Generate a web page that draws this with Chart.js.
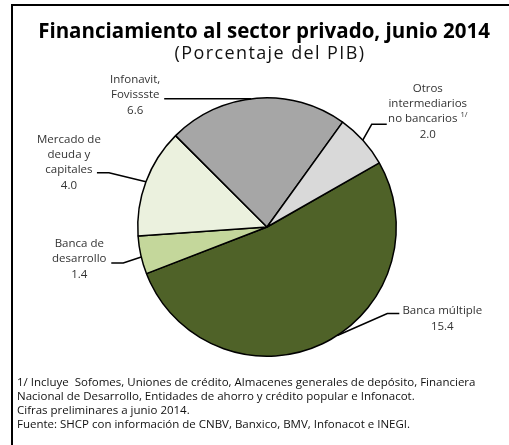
<!DOCTYPE html>
<html>
<head>
<meta charset="utf-8">
<script src="https://cdn.jsdelivr.net/npm/chart.js@4.4.1/dist/chart.umd.min.js"></script>
<style>
  body { margin: 0; background: #fff; }
  #wrap { position: relative; width: 509px; height: 445px; overflow: hidden; font-family: "Open Sans", sans-serif; }
  #frame { position: absolute; left: 11px; top: 4px; width: 520px; height: 460px; border-top: 2px solid #000; border-left: 2px solid #000; }
  #title { position: absolute; left: 0; width: 528px; top: 17px; text-align: center; font-weight: bold; font-size: 20.5px; color: #000; line-height: 26px; }
  #subtitle { position: absolute; left: 0; width: 540px; top: 41px; text-align: center; font-size: 18px; letter-spacing: 1.4px; color: #111; line-height: 22px; }
  #chart { position: absolute; left: 0; top: 0; }
  #notes { position: absolute; left: 17px; top: 375px; font-size: 11.5px; line-height: 14px; color: #111; white-space: nowrap; }
</style>
</head>
<body>
<div id="wrap">
  <div id="frame"></div>
  <canvas id="chart" width="509" height="445"></canvas>
  <div id="title">Financiamiento al sector privado, junio 2014</div>
  <div id="subtitle">(Porcentaje del PIB)</div>
  <div id="notes">
    1/ Incluye&nbsp; Sofomes, Uniones de crédito, Almacenes generales de depósito, Financiera<br>
    Nacional de Desarrollo, Entidades de ahorro y crédito popular e Infonacot.<br>
    Cifras preliminares a junio 2014.<br>
    Fuente: SHCP con información de CNBV, Banxico, BMV, Infonacot e INEGI.
  </div>
</div>
<script>
// Data (% del PIB)
const categories = ['Banca múltiple', 'Banca de desarrollo', 'Mercado de deuda y capitales', 'Infonavit, Fovissste', 'Otros intermediarios no bancarios'];
const values = [15.4, 1.4, 4.0, 6.6, 2.0];
const labelLines = [
  ['Banca múltiple'],
  ['Banca de', 'desarrollo'],
  ['Mercado de', 'deuda y', 'capitales'],
  ['Infonavit,', 'Fovissste'],
  ['Otros', 'intermediarios', 'no bancarios']
];
const footnoteMark = [null, null, null, null, '1/'];

const sliceColors = ['#4F6228', '#C4D79B', '#EBF1DE', '#A6A6A6', '#D9D9D9'];

// leader line layout per slice: where it leaves the arc, elbow, tail, text block
const leaderStyle = [
  { frac: 0.46, elbow: [50, -22], tail: 12, text: [43, -3] },
  { frac: 0.45, elbow: [-18, 6], tail: -12, text: [-32, -19] },
  { frac: 0.50, elbow: [-37, -9], tail: -12, text: [-28, -33] },
  { frac: 0.47, elbow: [0, 0], tail: -87, text: [-29, -19] },
  { frac: 0.49, elbow: [9, -16], tail: 15, text: [41, -35] }
];

const FONT = '11.5px "Open Sans"';
const SUP_FONT = '7.5px "Open Sans"';

const leaderLabels = {
  id: 'leaderLabels',
  afterDatasetsDraw(chart) {
    const ctx = chart.ctx;
    const meta = chart.getDatasetMeta(0);
    ctx.save();
    meta.data.forEach((arc, i) => {
      const st = leaderStyle[i];
      const a = arc.startAngle + (arc.endAngle - arc.startAngle) * st.frac;
      const r = arc.outerRadius;
      const x0 = arc.x + r * Math.cos(a);
      const y0 = arc.y + r * Math.sin(a);
      const x1 = x0 + st.elbow[0];
      const y1 = y0 + st.elbow[1];
      const x2 = x1 + st.tail;
      ctx.strokeStyle = '#000';
      ctx.lineWidth = 1.6;
      ctx.beginPath();
      ctx.moveTo(x0, y0);
      ctx.lineTo(x1, y1);
      ctx.lineTo(x2, y1);
      ctx.stroke();

      const lines = labelLines[i].concat([values[i].toFixed(1)]);
      const tx = x2 + st.text[0];
      let ty = y1 + st.text[1];
      ctx.fillStyle = '#333';
      ctx.textAlign = 'center';
      ctx.textBaseline = 'middle';
      ctx.font = FONT;
      lines.forEach((ln, k) => {
        const isLastLabelLine = k === labelLines[i].length - 1;
        if (isLastLabelLine && footnoteMark[i]) {
          const w = ctx.measureText(ln).width;
          ctx.font = SUP_FONT;
          const ws = ctx.measureText(footnoteMark[i]).width + 3;
          ctx.font = FONT;
          ctx.textAlign = 'left';
          const left = tx - (w + ws) / 2;
          ctx.fillText(ln, left, ty);
          ctx.font = SUP_FONT;
          ctx.fillText(footnoteMark[i], left + w + 3, ty - 4);
          ctx.font = FONT;
          ctx.textAlign = 'center';
        } else {
          ctx.fillText(ln, tx, ty);
        }
        ty += k === labelLines[i].length - 1 ? 16 : 15;
      });
    });
    ctx.restore();
  }
};

new Chart(document.getElementById('chart').getContext('2d'), {
  type: 'pie',
  data: {
    labels: categories,
    datasets: [{
      data: values,
      backgroundColor: sliceColors,
      borderColor: '#000',
      borderWidth: 1.5
    }]
  },
  options: {
    responsive: false,
    animation: false,
    rotation: 60.3,
    layout: { padding: { left: 137, right: 112, top: 97, bottom: 88 } },
    plugins: {
      legend: { display: false },
      tooltip: { enabled: false }
    }
  },
  plugins: [leaderLabels]
});
</script>
</body>
</html>
